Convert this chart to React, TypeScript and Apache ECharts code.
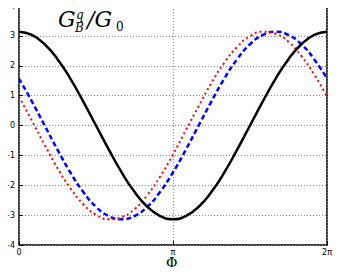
import React, { useEffect, useRef } from "react";
import * as echarts from "echarts";

const phiDeg = [0, 15, 30, 45, 60, 75, 90, 105, 120, 135, 150, 165, 180, 195, 210, 225, 240, 255, 270, 285, 300, 315, 330, 345, 360];
const blackSolid = [3.14, 3.03, 2.72, 2.22, 1.57, 0.81, 0, -0.81, -1.57, -2.22, -2.72, -3.03, -3.14, -3.03, -2.72, -2.22, -1.57, -0.81, 0, 0.81, 1.57, 2.22, 2.72, 3.03, 3.14];
const blueDashed = [1.57, 0.81, 0, -0.81, -1.57, -2.22, -2.72, -3.03, -3.14, -3.03, -2.72, -2.22, -1.57, -0.81, 0, 0.81, 1.57, 2.22, 2.72, 3.03, 3.14, 3.03, 2.72, 2.22, 1.57];
const redDotted = [0.97, 0.16, -0.65, -1.43, -2.1, -2.63, -2.99, -3.14, -3.07, -2.8, -2.33, -1.71, -0.97, -0.16, 0.65, 1.43, 2.1, 2.63, 2.99, 3.14, 3.07, 2.8, 2.33, 1.71, 0.97];
const xTickLabels: Record<number, string> = { 0: "0", 180: "π", 360: "2π" };

const pairs = (ys: number[]) => phiDeg.map((x, i) => [x, ys[i]]);

export default function App() {
  const ref = useRef<HTMLDivElement>(null);
  useEffect(() => {
    if (!ref.current) return;
    const chart = echarts.init(ref.current, null, { renderer: "svg" });
    const serif = "DejaVu Serif";
    chart.setOption({
      animation: false,
      grid: { left: 19, right: 13, top: 6, bottom: 30, show: true, borderColor: "#000", borderWidth: 1.5, backgroundColor: "transparent" },
      xAxis: {
        type: "value",
        min: 0,
        max: 360,
        interval: 180,
        axisLine: { show: false, onZero: false },
        axisTick: { show: true, inside: true, length: 4, lineStyle: { color: "#000" } },
        axisLabel: { formatter: (v: number) => xTickLabels[v] ?? "", fontSize: 8, color: "#000", fontFamily: "DejaVu Sans", margin: 3 },
        splitLine: { show: true, lineStyle: { color: "#888", type: [1, 2], width: 1 } },
      },
      yAxis: {
        type: "value",
        min: -4,
        max: 4,
        interval: 1,
        axisLine: { show: false, onZero: false },
        axisTick: { show: true, inside: true, length: 4, lineStyle: { color: "#000" } },
        axisLabel: { formatter: (v: number) => String(v).replace("-", "−"), fontSize: 8, color: "#000", fontFamily: "DejaVu Sans", margin: 4 },
        splitLine: { show: true, lineStyle: { color: "#888", type: [1, 2], width: 1 } },
      },
      series: [
        { type: "line", data: pairs(blackSolid), smooth: true, showSymbol: false, lineStyle: { color: "#000", width: 2.5 }, z: 3 },
        { type: "line", data: pairs(blueDashed), smooth: true, showSymbol: false, lineStyle: { color: "#0000ff", width: 2.5, type: [5, 3] }, z: 2 },
        { type: "line", data: pairs(redDotted), smooth: true, showSymbol: false, lineStyle: { color: "#ff0000", width: 2, type: [2, 3] }, z: 2 },
      ],
      graphic: [
        { type: "text", left: 58, top: 8, style: { text: "G", font: `italic 22px "${serif}"`, fill: "#000" } },
        { type: "text", left: 76, top: 9, style: { text: "q", font: `italic 12px "${serif}"`, fill: "#000" } },
        { type: "text", left: 75, top: 22, style: { text: "B", font: `italic 12px "${serif}"`, fill: "#000" } },
        { type: "text", left: 87, top: 8, style: { text: "/G", font: `italic 22px "${serif}"`, fill: "#000" } },
        { type: "text", left: 116, top: 21, style: { text: "0", font: `12px "${serif}"`, fill: "#000" } },
        { type: "text", left: 166, top: 256, style: { text: "Φ", font: `14px "${serif}"`, fill: "#000" } },
      ],
    });
    return () => chart.dispose();
  }, []);
  return <div ref={ref} style={{ width: 340, height: 275, margin: -8 }} />;
}
